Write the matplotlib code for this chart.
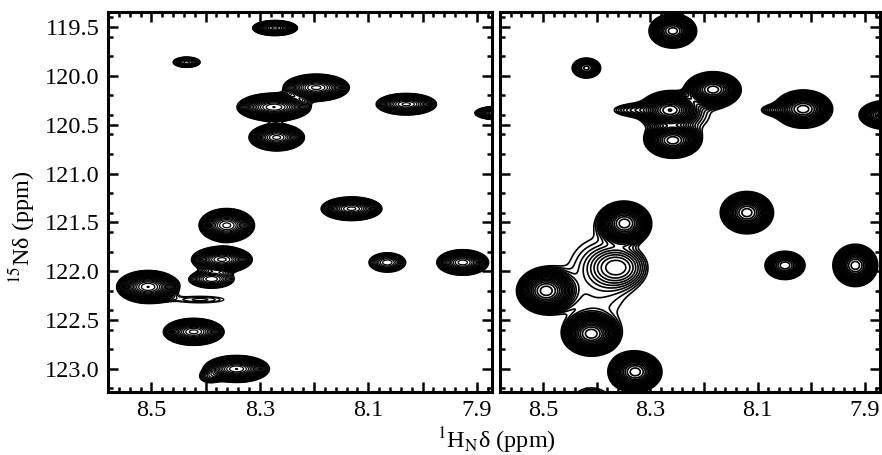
import numpy as np
import matplotlib.pyplot as plt
from matplotlib.ticker import MultipleLocator, FuncFormatter

# peak lists (1H ppm, 15N ppm, widths in ppm, relative height)
left_h = [8.272, 8.435, 8.274, 8.196, 8.269, 8.030, 7.862, 8.131, 8.361, 8.370,
          8.389, 8.506, 8.410, 8.422, 8.343, 8.392, 8.065, 7.926]
left_n = [119.51, 119.86, 120.32, 120.12, 120.63, 120.29, 120.38, 121.36, 121.53, 121.88,
          122.08, 122.16, 122.29, 122.62, 123.00, 123.08, 121.91, 121.91]
left_sh = [0.017, 0.014, 0.027, 0.025, 0.021, 0.024, 0.018, 0.023, 0.021, 0.023,
           0.022, 0.023, 0.045, 0.023, 0.024, 0.012, 0.018, 0.020]
left_sn = [0.032, 0.030, 0.057, 0.057, 0.057, 0.048, 0.030, 0.050, 0.071, 0.055,
           0.050, 0.067, 0.035, 0.057, 0.055, 0.040, 0.053, 0.055]
left_amp = [20, 5, 25, 20, 20, 15, 15, 20, 20, 20,
            6, 25, 1.6, 20, 25, 3, 6, 18]

right_h = [8.258, 8.419, 8.263, 8.183, 8.258, 8.250, 8.320, 8.015, 8.065, 7.862,
           8.120, 8.348, 8.362, 8.494, 8.410, 8.328, 8.410, 8.049, 7.918, 8.400]
right_n = [119.54, 119.92, 120.35, 120.14, 120.66, 120.40, 120.35, 120.34, 120.35, 120.40,
           121.40, 121.51, 121.96, 122.20, 122.64, 123.03, 123.40, 121.94, 121.94, 122.10]
right_sh = [0.017, 0.013, 0.020, 0.020, 0.020, 0.050, 0.030, 0.021, 0.020, 0.020,
            0.019, 0.019, 0.028, 0.021, 0.020, 0.019, 0.025, 0.016, 0.016, 0.060]
right_sn = [0.067, 0.050, 0.070, 0.070, 0.070, 0.150, 0.040, 0.075, 0.040, 0.060,
            0.083, 0.085, 0.110, 0.090, 0.083, 0.080, 0.120, 0.062, 0.083, 0.450]
right_amp = [30, 8, 30, 30, 30, 2, 3, 30, 2.5, 20,
             30, 30, 5, 30, 30, 30, 4, 15, 30, 1.5]

plt.rcParams['font.family'] = ['Liberation Serif', 'DejaVu Serif']
plt.rcParams['mathtext.fontset'] = 'stix'
plt.rcParams['font.size'] = 17.5

gh = np.linspace(7.80, 8.65, 700)
gn = np.linspace(119.1, 123.6, 700)
H, N = np.meshgrid(gh, gn)


def spectrum(ph, pn, sh, sn, amp):
    z = np.zeros_like(H)
    for h, n, a, b, A in zip(ph, pn, sh, sn, amp):
        z += A * np.exp(-0.5 * ((H - h) / a) ** 2 - 0.5 * ((N - n) / b) ** 2)
    return z


fig = plt.figure(figsize=(8.82, 4.55), dpi=100)
ax1 = fig.add_axes([108 / 882, 1 - 392 / 455, 384 / 882, 380 / 455])
ax2 = fig.add_axes([500 / 882, 1 - 392 / 455, 380 / 882, 380 / 455])

panels = [(ax1, spectrum(left_h, left_n, left_sh, left_sn, left_amp), 1.15 ** np.arange(0, 30), 0.9),
          (ax2, spectrum(right_h, right_n, right_sh, right_sn, right_amp), 1.2 ** np.arange(0, 24), 1.2)]

for ax, z, lev, lw in panels:
    ax.contour(H, N, z, levels=lev, colors='black', linewidths=lw)
    ax.set_xlim(8.58, 7.872)
    ax.set_ylim(123.236, 119.346)
    ax.xaxis.set_major_locator(MultipleLocator(0.1))
    ax.xaxis.set_minor_locator(MultipleLocator(0.02))
    ax.xaxis.set_major_formatter(FuncFormatter(
        lambda v, p: '%.1f' % v if int(round(v * 10)) % 2 == 1 else ''))
    ax.yaxis.set_major_locator(MultipleLocator(0.5))
    ax.yaxis.set_minor_locator(MultipleLocator(0.2))
    ax.yaxis.set_major_formatter(FuncFormatter(lambda v, p: '%.1f' % v))
    ax.tick_params(which='both', direction='in', top=True, right=True, width=1.8)
    ax.tick_params(which='major', length=7, pad=6)
    ax.tick_params(which='minor', length=3.5)
    for s in ax.spines.values():
        s.set_linewidth(2.2)

ax2.tick_params(labelleft=False)

fig.text(496 / 882, 0.032, r'$^{1}$H$_{\mathrm{N}}$δ (ppm)', ha='center', va='center')
fig.text(0.024, 0.5, r'$^{15}$Nδ (ppm)', rotation=90, ha='center', va='center')

fig.savefig('out.png', dpi=100)
